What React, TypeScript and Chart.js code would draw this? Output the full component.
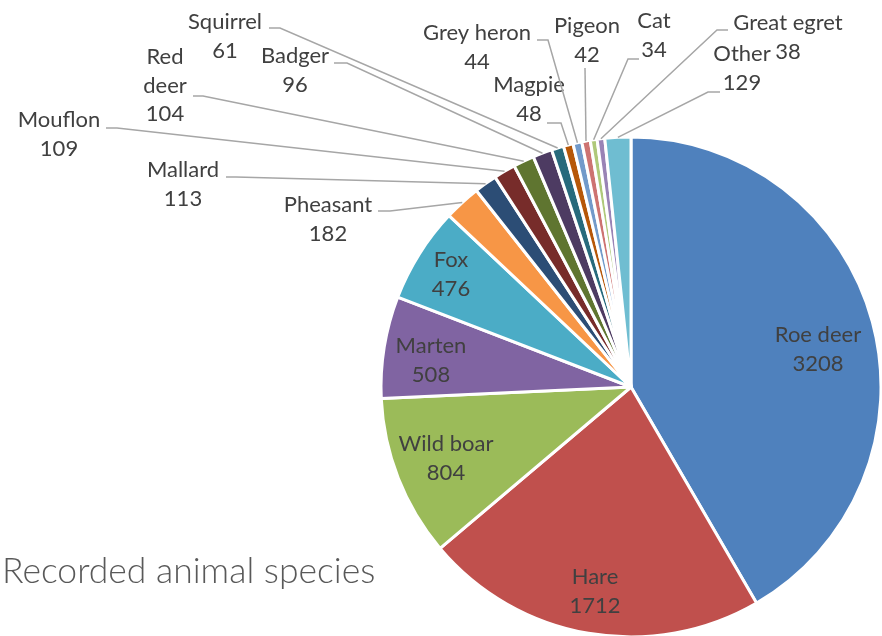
import React, { useEffect, useRef } from "react";
import { Chart, registerables } from "chart.js";

Chart.register(...registerables);

// ---- data ----
const CATEGORIES = [
  "Roe deer", "Hare", "Wild boar", "Marten", "Fox", "Pheasant", "Mallard", "Mouflon",
  "Red deer", "Badger", "Squirrel", "Magpie", "Grey heron", "Pigeon", "Cat", "Great egret", "Other",
];
const VALUES = [3208, 1712, 804, 508, 476, 182, 113, 109, 104, 96, 61, 48, 44, 42, 34, 38, 129];
const TITLE = "Recorded animal species";

// ---- styles ----
const COLORS = [
  "#4F81BD", "#C0504D", "#9BBB59", "#8064A2", "#4BACC6", "#F79646",
  "#2C4D75", "#772C2A", "#5F7530", "#4D3B62", "#276A7C", "#B65708",
  "#729ACA", "#CD7371", "#AFC97A", "#9983B5", "#6FBDD1",
];
const FONT_FAMILY = "Lato, 'Open Sans', sans-serif";
const LABEL_FONT = `22px ${FONT_FAMILY}`;
const TITLE_FONT = `300 35.5px ${FONT_FAMILY}`;
const LABEL_COLOR = "#404040";
const TITLE_COLOR = "#595959";
const LEADER_COLOR = "#A6A6A6";
const LINE_HEIGHT = 28.5;

// label layout relative to pie centre
type Layout = { t: [number, number]; lead?: [number, number, number, number]; wrap?: boolean };
const LABEL_LAYOUT: Layout[] = [
  { t: [187, -45] },
  { t: [-36, 197] },
  { t: [-185, 64] },
  { t: [-200, -34] },
  { t: [-180, -120] },
  { t: [-303, -175], lead: [-253, -176, -241, -176] },
  { t: [-448, -210], lead: [-405, -210, -395, -210] },
  { t: [-572, -260], lead: [-525, -259, -514, -259] },
  { t: [-466, -323], lead: [-438, -291, -428, -291], wrap: true },
  { t: [-336, -324], lead: [-297, -324, -284, -324] },
  { t: [-406, -358], lead: [-362, -359, -351, -359] },
  { t: [-102, -295], lead: [-84, -264, -70, -264] },
  { t: [-154, -347], lead: [-94, -347, -83, -347] },
  { t: [-44, -354], lead: [-46, -319, -46, -319] },
  { t: [23, -359], lead: [8, -328, -3, -328] },
  { t: [157, -357], lead: [97, -357, 86, -357] },
  { t: [111, -326], lead: [89, -295, 77, -295] },
];

const labelPlugin = {
  id: "pieLabels",
  afterDraw(chart: any) {
    const ctx: CanvasRenderingContext2D = chart.ctx;
    const meta = chart.getDatasetMeta(0);
    ctx.save();
    meta.data.forEach((arc: any, i: number) => {
      const p = arc.getProps(["x", "y", "startAngle", "endAngle", "outerRadius"], true);
      const L = LABEL_LAYOUT[i];
      const cx = p.x, cy = p.y;
      if (L.lead) {
        const mid = (p.startAngle + p.endAngle) / 2;
        const ax = cx + Math.cos(mid) * p.outerRadius;
        const ay = cy + Math.sin(mid) * p.outerRadius;
        ctx.strokeStyle = LEADER_COLOR;
        ctx.lineWidth = 1.5;
        ctx.beginPath();
        ctx.moveTo(cx + L.lead[0], cy + L.lead[1]);
        ctx.lineTo(cx + L.lead[2], cy + L.lead[3]);
        ctx.lineTo(ax, ay);
        ctx.stroke();
      }
      const name = CATEGORIES[i];
      const lines = L.wrap ? [...name.split(" "), String(VALUES[i])] : [name, String(VALUES[i])];
      ctx.font = LABEL_FONT;
      ctx.fillStyle = LABEL_COLOR;
      ctx.textAlign = "center";
      ctx.textBaseline = "alphabetic";
      lines.forEach((ln, k) => {
        ctx.fillText(ln, cx + L.t[0], cy + L.t[1] + k * LINE_HEIGHT);
      });
    });
    ctx.font = TITLE_FONT;
    ctx.fillStyle = TITLE_COLOR;
    ctx.textAlign = "left";
    ctx.fillText(TITLE, 2, 583);
    ctx.restore();
  },
};

export default function App() {
  const ref = useRef<HTMLCanvasElement | null>(null);
  useEffect(() => {
    if (!ref.current) return;
    const chart = new Chart(ref.current, {
      type: "pie",
      data: {
        labels: CATEGORIES,
        datasets: [
          {
            data: VALUES,
            backgroundColor: COLORS,
            borderColor: "#FFFFFF",
            borderWidth: 3,
            hoverOffset: 0,
          },
        ],
      },
      options: {
        responsive: false,
        animation: false,
        events: [],
        radius: 250,
        layout: { padding: { left: 380, top: 134, right: 0, bottom: 0 } },
        plugins: { legend: { display: false }, tooltip: { enabled: false } },
      } as any,
      plugins: [labelPlugin],
    });
    return () => chart.destroy();
  }, []);
  return (
    <div style={{ position: "absolute", left: 0, top: 0, width: 882, height: 636, overflow: "hidden", background: "#fff" }}>
      <canvas ref={ref} width={882} height={640} style={{ display: "block" }} />
    </div>
  );
}
